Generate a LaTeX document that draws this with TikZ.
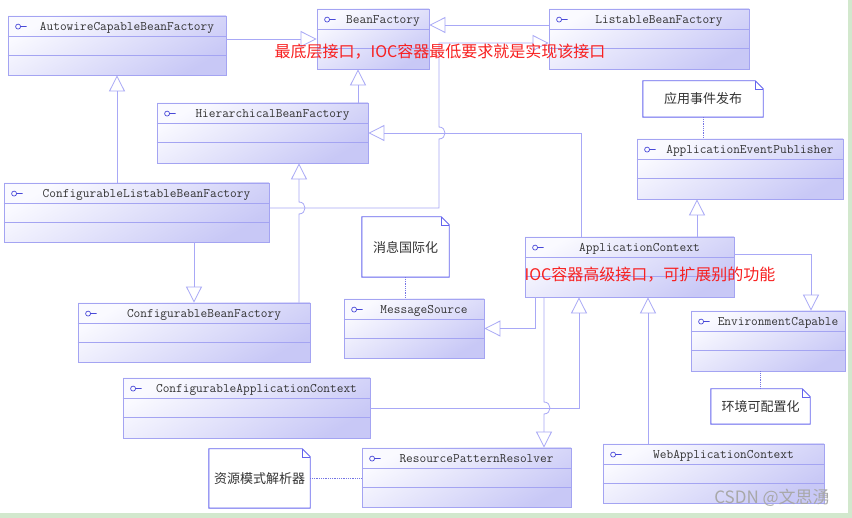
\documentclass[tikz,border=0pt]{standalone}
\usepackage{fontspec}
\newfontfamily\cjk{Noto Sans CJK SC}
\usetikzlibrary{arrows.meta,fit,calc}
\definecolor{boxline}{HTML}{A4A4F2}
\definecolor{boxtop}{HTML}{FAFAFF}
\definecolor{boxbot}{HTML}{C8C8F6}
\definecolor{connc}{HTML}{A8A8F6}
\definecolor{iconc}{HTML}{4848D8}
\definecolor{titlec}{HTML}{333333}
\definecolor{notec}{HTML}{6464EE}
\definecolor{dotc}{HTML}{7474E4}
\definecolor{redc}{HTML}{F82020}
\definecolor{wmc}{HTML}{A8A8A8}
\definecolor{greenb}{HTML}{D2E8CD}
\tikzset{
  cls/.style={draw=boxline, line width=0.8pt, inner sep=0pt, top color=boxtop, bottom color=boxbot, shading angle=30},
  clsline/.style={draw=boxline, line width=0.8pt},
  clstitle/.style={font=\fontsize{13}{14}\selectfont\ttfamily\addfontfeatures{FakeBold=0.7}, text=titlec, inner sep=0pt, anchor=base},
  clsicon/.style={draw=iconc, line width=0.7pt},
  gen/.style={draw=connc, line width=0.8pt, -{Triangle[open, length=16pt, width=16pt]}},
  notebox/.style={inner sep=0pt, fill=white},
  noteline/.style={draw=notec, line width=0.9pt},
  notetext/.style={font=\cjk\fontsize{13}{15}\selectfont, text=titlec, inner sep=0pt},
  dotline/.style={draw=dotc, line width=0.8pt, densely dotted},
  redtext/.style={font=\cjk\fontsize{16}{18}\selectfont, text=redc, inner sep=0pt}
}
\newcommand\umlclass[6]{%
  \node[cls, fit={(#2,#3) (#4,#5)}] (#1) {};
  \draw[clsline] ([yshift=-21pt]#1.north west) -- ([yshift=-21pt]#1.north east);
  \draw[clsline] ([yshift=-40pt]#1.north west) -- ([yshift=-40pt]#1.north east);
  \node[clstitle] at ($(#1.north)+(10,15)$) {#6};
  \draw[clsicon] ([xshift=10.5pt,yshift=-11pt]#1.north west) circle (2.5pt)
     ++(2.5pt,0) -- ++(6pt,0);
}
\newcommand\umlnote[6]{%
  \node[notebox, fit={(#2,#3) (#4,#5)}] (#1) {};
  \draw[noteline] (#1.north west) -- ([xshift=-8pt]#1.north east) -- ([yshift=-8pt]#1.north east) -- (#1.south east) -- (#1.south west) -- cycle;
  \draw[noteline, line width=0.5pt] ([xshift=-8pt]#1.north east) -- ([xshift=-8pt,yshift=-8pt]#1.north east) -- ([yshift=-8pt]#1.north east);
  \node[notetext] at (#1.center) {#6};
}
\begin{document}
\begin{tikzpicture}[x=1pt,y=-1pt]
\useasboundingbox (0,0) rectangle (852,518);
\fill[white] (0,0) rectangle (852,518);
\fill[greenb] (848,0) rectangle (852,518);
\fill[greenb] (0,513) rectangle (852,518);

% classes
\umlclass{acbf}{8}{16}{226}{75}{AutowireCapableBeanFactory}
\umlclass{bf}{317}{9}{429}{69}{BeanFactory}
\umlclass{lbf}{549}{9}{749}{69}{ListableBeanFactory}
\umlclass{hbf}{157}{103}{368}{163}{HierarchicalBeanFactory}
\umlclass{clbf}{4}{183}{269}{242}{ConfigurableListableBeanFactory}
\umlclass{cbf}{78}{303}{310}{362}{ConfigurableBeanFactory}
\umlclass{ms}{344}{299}{484}{358}{MessageSource}
\umlclass{cac}{123}{378}{370}{438}{ConfigurableApplicationContext}
\umlclass{rpr}{362}{448}{571}{507}{ResourcePatternResolver}
\umlclass{wac}{603}{444}{824}{503}{WebApplicationContext}
\umlclass{ac}{525}{237}{734}{297}{ApplicationContext}
\umlclass{ec}{691}{311}{845}{371}{EnvironmentCapable}
\umlclass{aep}{637}{139}{843}{199}{ApplicationEventPublisher}

% helper coordinates
\coordinate (c4) at (439,208);
\coordinate (hopA) at (439,133);
\coordinate (lbfin) at ([yshift=-4pt]lbf.west);
\coordinate (x5) at (358,0);
\coordinate (hopB) at (299,208);
\coordinate (x8) at (581,0);
\coordinate (x9) at (697,0);
\coordinate (x10) at (535,0);
\coordinate (c11) at (811,254);
\coordinate (x12) at (579,0);
\coordinate (hopC) at (544,408);
\coordinate (x14) at (648,0);

% generalizations
\draw[gen] (clbf.north -| acbf.south) -- (acbf.south);
\draw[gen] (acbf.east |- bf.west) -- (bf.west);
\draw[gen] ([yshift=14pt]lbf.west) -- ([yshift=14pt]lbf.west -| bf.east);
\draw[gen] (clbf.east |- c4) -- (c4) -- ([yshift=-6pt]hopA)
   .. controls ([xshift=8pt,yshift=-6pt]hopA) and ([xshift=8pt,yshift=6pt]hopA) .. ([yshift=6pt]hopA)
   -- (c4 |- lbfin) -- (lbfin);
\draw[gen] (hbf.north -| x5) -- (bf.south -| x5);
\draw[gen] (cbf.north -| hopB) -- ([yshift=-6pt]hopB)
   .. controls ([xshift=8pt,yshift=-6pt]hopB) and ([xshift=8pt,yshift=6pt]hopB) .. ([yshift=6pt]hopB)
   -- (hbf.south -| hopB);
\draw[gen] (clbf.south -| cbf.north) -- (cbf.north);
\draw[gen] (ac.north -| x8) -- (x8 |- hbf.east) -- (hbf.east);
\draw[gen] (ac.north -| x9) -- (aep.south -| x9);
\draw[gen] (ac.south -| x10) -- (x10 |- ms.east) -- (ms.east);
\draw[gen] (ac.east |- c11) -- (c11) -- (ec.north -| c11);
\draw[gen] (cac.east) -- (x12 |- cac.east) -- (ac.south -| x12);
\draw[gen] (ac.south -| hopC) -- ([yshift=6pt]hopC)
   .. controls ([xshift=8pt,yshift=6pt]hopC) and ([xshift=8pt,yshift=-6pt]hopC) .. ([yshift=-6pt]hopC)
   -- (rpr.north -| hopC);
\draw[gen] (wac.north -| x14) -- (ac.south -| x14);

% notes
\umlnote{n1}{643}{81}{763}{117}{应用事件发布}
\umlnote{n2}{362}{217}{449}{277}{消息国际化}
\umlnote{n3}{711}{389}{810}{424}{环境可配置化}
\umlnote{n4}{209}{449}{310}{508}{资源模式解析器}
\draw[dotline] (n1.south) -- (n1.south |- aep.north);
\draw[dotline] (n2.south) -- (n2.south |- ms.north);
\draw[dotline] (n3.north |- ec.south) -- (n3.north);
\draw[dotline] (n4.east) -- (n4.east -| rpr.west);

% red annotations
\node[redtext] (r1) at (440,52) {最底层接口，IOC容器最低要求就是实现该接口};
\node[redtext] (r2) at (650,275) {IOC容器高级接口，可扩展别的功能};

% watermark
\node[font=\cjk\fontsize{17}{19}\selectfont, text=wmc, inner sep=0pt] (wm) at (772,498) {CSDN @文思湧};
\end{tikzpicture}
\end{document}
